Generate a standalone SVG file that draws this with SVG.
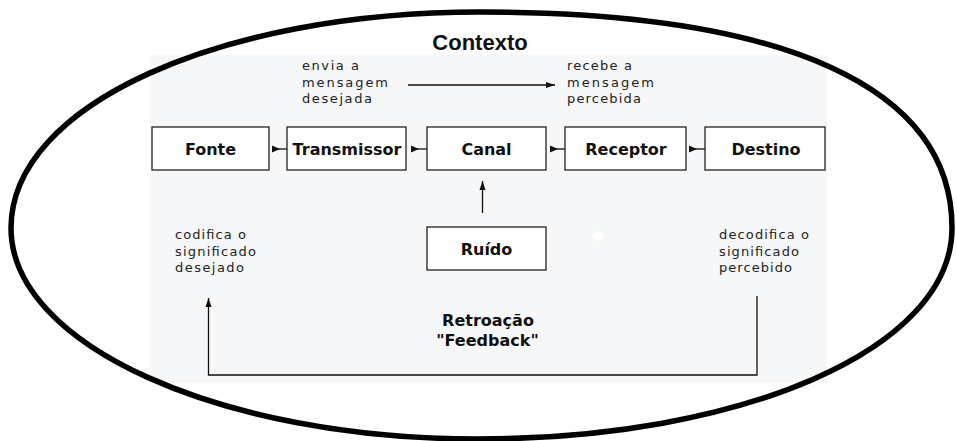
<svg xmlns="http://www.w3.org/2000/svg" width="957" height="441" viewBox="0 0 957 441">
<style>
.box{fill:#fff;stroke:#222;stroke-width:1.3}
.lbl{font-family:"DejaVu Sans",Verdana,sans-serif;font-weight:bold;font-size:16px;fill:#111;text-anchor:middle}
.note{font-family:"DejaVu Sans",Verdana,sans-serif;font-size:13px;fill:#222}
.con{stroke:#111;stroke-width:1.3;fill:none}
</style>
<defs>
<marker id="tri" markerUnits="userSpaceOnUse" markerWidth="9" markerHeight="8" refX="0" refY="3.5" orient="0" overflow="visible">
<path d="M0,0 L8,3.5 L0,7 z" fill="#111"/>
</marker>
<marker id="head" markerUnits="userSpaceOnUse" markerWidth="10" markerHeight="7" refX="9" refY="3" orient="auto" overflow="visible">
<path d="M0,0 L9,3 L0,6 z" fill="#111"/>
</marker>
</defs>
<rect x="0" y="0" width="957" height="441" fill="#fff"/>
<rect x="150" y="55" width="677" height="328" fill="#f6f7f8"/>
<ellipse cx="598" cy="236" rx="6" ry="4.5" fill="#fff"/>
<path id="contexto-oval" d="M480,12 C787,12 952,88 952,228 C952,350 740,439 478,439 C220,439 11,345 11,228 C11,105 220,12 480,12 Z" fill="none" stroke="#000" stroke-width="5.5"/>
<text x="480" y="49.5" font-family="'Liberation Sans',Arial,sans-serif" font-weight="bold" font-size="22" fill="#111" text-anchor="middle">Contexto</text>

<g id="connectors">
<line class="con" x1="272" y1="149" x2="287" y2="149" marker-start="url(#tri)"/>
<line class="con" x1="411" y1="149" x2="427" y2="149" marker-start="url(#tri)"/>
<line class="con" x1="550" y1="149" x2="565" y2="149" marker-start="url(#tri)"/>
<line class="con" x1="689" y1="149" x2="705" y2="149" marker-start="url(#tri)"/>
<line class="con" x1="408" y1="85" x2="555" y2="85" marker-end="url(#head)"/>
<line class="con" x1="482.5" y1="213" x2="482.5" y2="181" marker-end="url(#head)"/>
<path class="con" d="M757,296 L757,375 L208.5,375 L208.5,298" marker-end="url(#head)"/>
</g>

<g id="fonte"><rect class="box" x="152" y="127" width="117" height="43"/><text class="lbl" x="210.5" y="155">Fonte</text></g>
<g id="transmissor"><rect class="box" x="287" y="127" width="119" height="43"/><text class="lbl" x="347" y="155">Transmissor</text></g>
<g id="canal"><rect class="box" x="427" y="127" width="119" height="43"/><text class="lbl" x="486.5" y="155">Canal</text></g>
<g id="receptor"><rect class="box" x="565" y="127" width="121" height="43"/><text class="lbl" x="626" y="155">Receptor</text></g>
<g id="destino"><rect class="box" x="705" y="127" width="120" height="43"/><text class="lbl" x="766" y="155">Destino</text></g>
<g id="ruido"><rect class="box" x="427" y="227" width="119" height="43"/><text class="lbl" x="486.5" y="254.5">Ruído</text></g>

<g id="envia">
<text class="note" x="302" y="70" textLength="57" lengthAdjust="spacing">envia a</text>
<text class="note" x="302" y="86.5" textLength="86" lengthAdjust="spacing">mensagem</text>
<text class="note" x="302" y="102.5" textLength="70" lengthAdjust="spacing">desejada</text>
</g>
<g id="recebe">
<text class="note" x="567" y="70" textLength="65" lengthAdjust="spacing">recebe a</text>
<text class="note" x="567" y="86.5" textLength="87" lengthAdjust="spacing">mensagem</text>
<text class="note" x="567" y="102.5" textLength="74" lengthAdjust="spacing">percebida</text>
</g>
<g id="codifica">
<text class="note" x="175" y="239" textLength="71" lengthAdjust="spacing">codifica o</text>
<text class="note" x="175" y="255.5" textLength="81" lengthAdjust="spacing">significado</text>
<text class="note" x="175" y="272" textLength="69" lengthAdjust="spacing">desejado</text>
</g>
<g id="decodifica">
<text class="note" x="719" y="239" textLength="90" lengthAdjust="spacing">decodifica o</text>
<text class="note" x="719" y="255.5" textLength="80" lengthAdjust="spacing">significado</text>
<text class="note" x="719" y="272" textLength="73" lengthAdjust="spacing">percebido</text>
</g>
<g id="retroacao">
<text class="lbl" x="488" y="326">Retroação</text>
<text class="lbl" x="487.5" y="345.5">"Feedback"</text>
</g>
</svg>
